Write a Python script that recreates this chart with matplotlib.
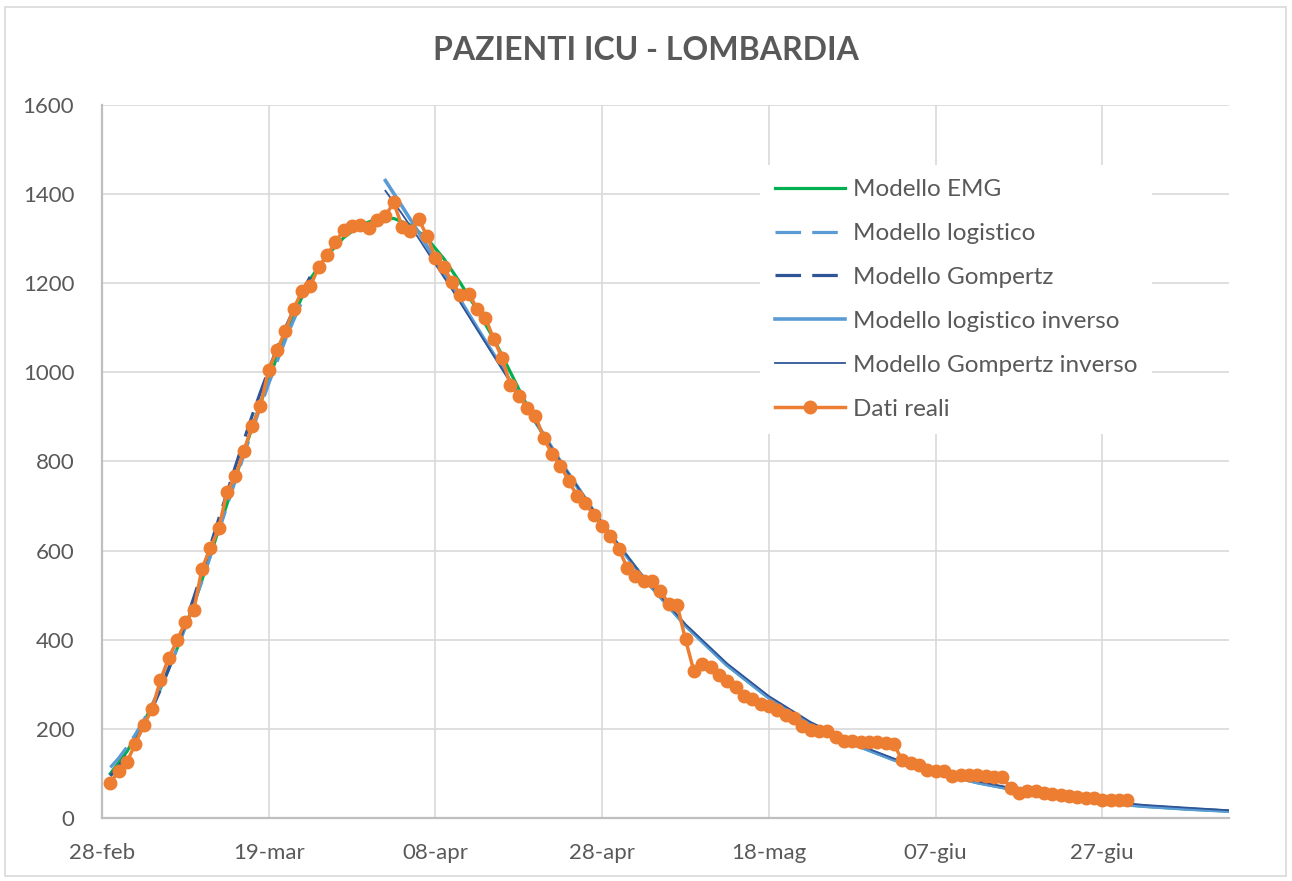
import matplotlib.pyplot as plt
import matplotlib as mpl
from matplotlib.patches import Rectangle

mpl.rcParams['font.family'] = ['Lato', 'DejaVu Sans']

### Dati ###
# giorni contati dal 28-feb (0 = 28-feb)
giorni_reali = list(range(1, 124))
dati_reali = [80, 106, 127, 167, 209, 244, 309, 359, 399, 440, 466, 560, 605, 650, 732, 767,
              823, 879, 924, 1006, 1050, 1093, 1142, 1183, 1194, 1236, 1263, 1292, 1319, 1328,
              1330, 1324, 1342, 1351, 1381, 1326, 1317, 1343, 1305, 1257, 1236, 1202, 1174, 1176,
              1143, 1122, 1074, 1032, 971, 947, 921, 902, 852, 817, 791, 756, 723, 706, 679, 656,
              633, 604, 562, 543, 532, 531, 509, 481, 478, 401, 330, 347, 340, 321, 307, 295,
              274, 268, 256, 251, 243, 232, 226, 206, 198, 196, 196, 183, 174, 173, 172, 172,
              170, 168, 166, 130, 123, 119, 108, 105, 106, 95, 96, 96, 96, 95, 93, 92, 69, 57,
              62, 62, 56, 54, 52, 51, 47, 46, 45, 42, 42, 41, 41]

# Modello EMG
giorni_emg = [1, 3, 5, 7, 9, 11, 13, 15, 17, 19, 21, 23, 25, 27, 29, 31, 33, 35, 37, 39, 41, 43,
              45, 47, 49, 52, 55, 60, 65, 70, 75, 80, 85, 90, 95, 100, 105, 110, 115, 120, 125,
              130, 135.2]
emg = [100, 150, 215, 290, 380, 480, 590, 705, 820, 930, 1035, 1128, 1210, 1262, 1302, 1330,
       1344, 1345, 1330, 1300, 1255, 1200, 1140, 1075, 1000, 888, 800, 660, 538, 432, 343, 270,
       212, 167, 131, 103, 80, 62, 46, 35, 27, 21, 16]

# Modelli logistico e Gompertz (fase crescente)
giorni_cresc = list(range(1, 26))
logistico = [114, 135, 160, 188, 220, 255, 293, 335, 380, 428, 479, 532, 587, 643, 700, 757,
             813, 868, 922, 974, 1024, 1072, 1117, 1159, 1198]
gompertz = [95, 117, 142, 172, 206, 245, 288, 335, 385, 438, 494, 552, 611, 671, 730, 789,
            846, 902, 955, 1006, 1054, 1099, 1141, 1180, 1215]

# Modelli inversi (fase decrescente)
giorni_inv = [34, 36, 38, 40, 42, 45, 50, 55, 60, 65, 70, 75, 80, 85, 90, 95, 100, 105, 110,
              115, 120, 125, 130, 135.2]
logistico_inv = [1430, 1372, 1313, 1252, 1192, 1100, 950, 800, 660, 538, 432, 343, 270, 212,
                 167, 131, 103, 80, 62, 46, 35, 27, 21, 16]
gompertz_inv = [1407, 1355, 1300, 1242, 1185, 1096, 948, 800, 662, 540, 435, 347, 274, 216,
                170, 134, 106, 83, 65, 50, 39, 30, 24, 18]

tick_giorni = [0, 20, 40, 60, 80, 100, 120]
tick_etichette = ['28-feb', '19-mar', '08-apr', '28-apr', '18-mag', '07-giu', '27-giu']

### Grafico ###
grigio_testo = '#595959'
fig = plt.figure(figsize=(12.92, 8.81), dpi=100)
ax = fig.add_axes([102/1292, 1 - 818.3/881, 1127/1292, 713.6/881])

ax.plot(giorni_emg, emg, color='#00B050', lw=2.3, label='Modello EMG')
ax.plot(giorni_cresc, logistico, color='#5B9BD5', lw=2.3, dashes=(8, 3.5), label='Modello logistico')
ax.plot(giorni_cresc, gompertz, color='#2F5597', lw=2.3, dashes=(8, 3.5), label='Modello Gompertz')
ax.plot(giorni_inv, logistico_inv, color='#5B9BD5', lw=2.6, label='Modello logistico inverso')
ax.plot(giorni_inv, gompertz_inv, color='#2F5597', lw=1.3, label='Modello Gompertz inverso')
ax.plot(giorni_reali, dati_reali, color='#ED7D31', lw=2.5, marker='o', markersize=9,
        label='Dati reali')

ax.set_xlim(0, 135.2)
ax.set_ylim(0, 1600)
ax.set_yticks(range(0, 1601, 200))
ax.set_xticks(tick_giorni)
ax.set_xticklabels(tick_etichette)
ax.tick_params(axis='both', length=0, labelsize=16, colors=grigio_testo)
ax.tick_params(axis='y', pad=20)
ax.tick_params(axis='x', pad=18)
ax.grid(True, color='#D9D9D9', lw=1.2)
ax.set_axisbelow(True)
for lato in ['top', 'right']:
    ax.spines[lato].set_visible(False)
for lato in ['left', 'bottom']:
    ax.spines[lato].set_color('#BFBFBF')
    ax.spines[lato].set_linewidth(1.6)

leg = ax.legend(loc='upper left', bbox_to_anchor=(0.584, 0.916), borderaxespad=0,
                fontsize=17.5, frameon=True, facecolor='white', edgecolor='none',
                framealpha=1, fancybox=False, handlelength=2.9, handletextpad=0.3,
                labelspacing=0.94, borderpad=0.6)
for t in leg.get_texts():
    t.set_color(grigio_testo)

fig.text(0.5, 1 - 51/881, 'PAZIENTI ICU - LOMBARDIA', ha='center', va='center',
         fontsize=23, fontweight='bold', color=grigio_testo)

# Bordo esterno
fig.patches.append(Rectangle((5/1292, 5/881), 1281/1292, 869/881, transform=fig.transFigure,
                             fill=False, edgecolor='#D9D9D9', lw=1.2))

plt.savefig('out.png', dpi=100)
